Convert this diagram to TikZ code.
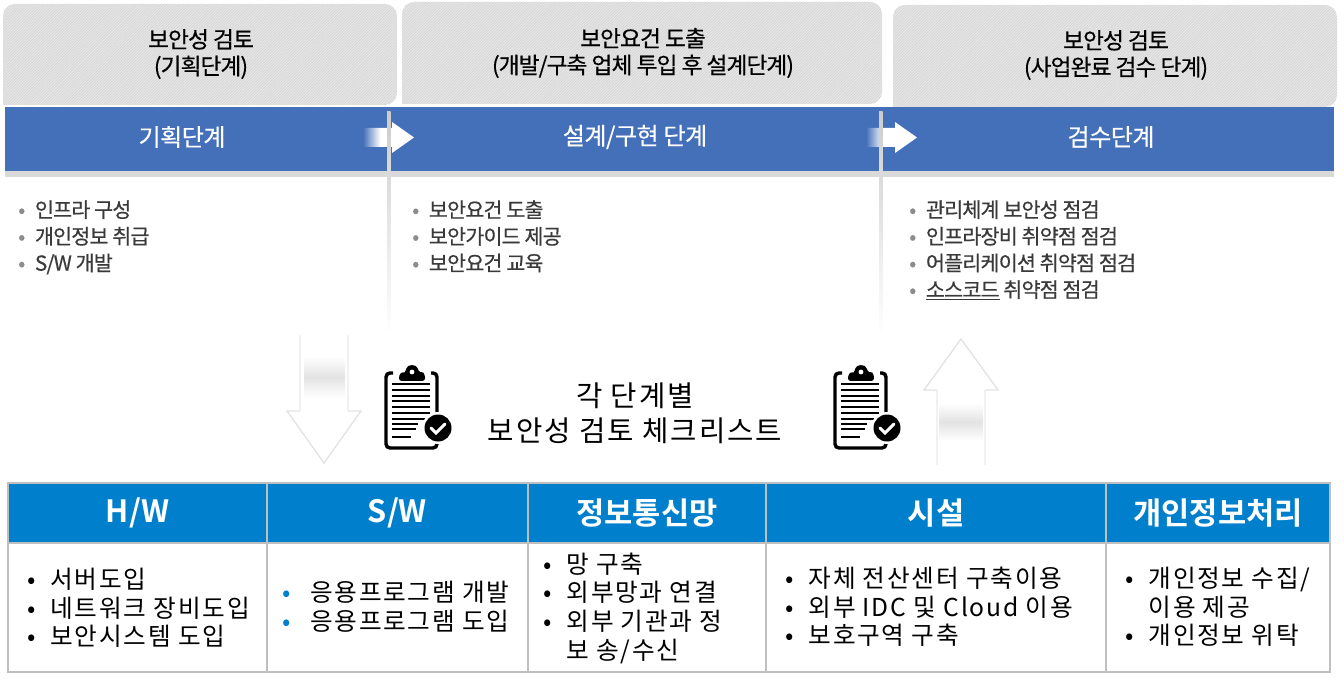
\documentclass[tikz,border=0pt]{standalone}
\usepackage{fontspec}
\usepackage{xcolor}
\setmainfont{Noto Sans CJK KR}[BoldFont={Noto Sans CJK KR Bold}]
\newfontfamily\tightfont{Noto Sans CJK KR}[LetterSpace=-4,FakeBold=0.5]
\newfontfamily\bandfont{Noto Sans CJK KR}[LetterSpace=-2,FakeBold=0.4]
\newfontfamily\widefont{Noto Sans CJK KR}[LetterSpace=7]
\usetikzlibrary{arrows.meta, positioning, shapes, patterns.meta}

\definecolor{bandblue}{HTML}{4470BA}
\definecolor{headblue}{HTML}{0080CC}
\definecolor{panelgray}{HTML}{E6E6E6}
\definecolor{hatchgray}{HTML}{D2D2D2}
\definecolor{stripgray}{HTML}{D9D9D9}
\definecolor{cellline}{HTML}{BFBFBF}
\definecolor{softtext}{HTML}{3A3A3A}
\definecolor{softdot}{HTML}{8C8C8C}
\definecolor{softarrow}{HTML}{E2E2E2}
\definecolor{softshaft}{HTML}{F1F1F1}

\pgfdeclarehorizontalshading{arrowfade}{100bp}{color(0bp)=(bandblue); color(25bp)=(bandblue); color(42bp)=(white); color(100bp)=(white)}

\newcommand{\topitem}[1]{\makebox[12.5pt][l]{\textcolor{softdot}{•}}#1}
\newcommand{\cellitem}[1]{\makebox[17.5pt][l]{•}#1}
\newcommand{\blueitem}[1]{\makebox[21pt][l]{\textcolor{headblue}{•}}#1}

\tikzset{
    paneltitle/.style={align=center,text=black,font=\tightfont\fontsize{17}{20}\selectfont},
    bandlabel/.style={text=white,font=\bandfont\fontsize{18}{20}\selectfont},
    toplist/.style={anchor=north west,align=left,inner sep=0pt,text=softtext,font=\tightfont\fontsize{15.5}{20}\selectfont},
    headcell/.style={anchor=north west,draw=cellline,line width=1.5pt,fill=headblue,text=white,font=\bfseries\fontsize{23}{26}\selectfont,inner sep=0pt,outer sep=0pt},
    bodycell/.style={anchor=north west,draw=cellline,line width=1.5pt,inner sep=0pt,outer sep=0pt},
    celllist/.style={anchor=west,align=left,inner sep=0pt,font=\widefont\fontsize{18.5}{21.5}\selectfont},
    clipboard/.pic={
        \draw[line width=2.6pt,rounded corners=3pt] (393,373) -- (386,373) -- (386,448) -- (437,448) -- (437,373) -- (431,373);
        \fill[rounded corners=2pt] (399,381) -- (399,375) .. controls (402,372) and (405,372) .. (406,371) .. controls (407,364) and (417,364) .. (418,371) .. controls (420,372) and (423,372) .. (425,375) -- (425,381) -- cycle;
        \fill[white] (412,372) circle (2.4);
        \foreach \ly/\lx in {384/430,390/430,396/430,401/430,407/430,413/430,419/425,424/418,429/416}
            \draw[line width=1.9pt] (392,\ly) -- (\lx,\ly);
        \draw[line width=1.9pt] (392,437) -- (411,437);
        \fill[white] (438,428) circle (16);
        \fill (438,428) circle (13.5);
        \draw[white,line width=2.2pt,line cap=round] (431,428) -- (436,433) -- (445,424);
    }
}

\begin{document}
\begin{tikzpicture}[x=0.75pt,y=-0.75pt]
    \useasboundingbox (0,0) rectangle (1344,680);

    % top panels
    \foreach \xa/\xb/\ya/\yb in {3/397/4/105,402/882/2/104,893/1337/5/107}
        \fill[panelgray,rounded corners=9pt,postaction={pattern={Lines[angle=45,distance=1.5pt,line width=.4pt]},pattern color=hatchgray}]
            (\xa,\yb) -- (\xa,\ya) -- (\xb,\ya) -- (\xb,\yb) -- (\xa,\yb);
    \node[paneltitle] (plan) at (201,54) {보안성 검토\\(기획단계)};
    \node[paneltitle] (design) at (643,53) {보안요건 도출\\(개발/구축 업체 투입 후 설계단계)};
    \node[paneltitle] (final) at (1116,55) {보안성 검토\\(사업완료 검수 단계)};

    % band
    \fill[stripgray] (5,171) rectangle (1334,177);
    \fill[bandblue] (5,107) rectangle (1334,171);
    \node[bandlabel] (planband) at (182,137) {기획단계};
    \node[bandlabel] (designband) at (635,137) {설계/구현 단계};
    \node[bandlabel] (finalband) at (1111,137) {검수단계};

    % dividers and arrows
    \foreach \dx/\ax in {0/0,492/503}{
        \shade[shading=arrowfade]
            (363+\ax,128) -- (392+\ax,128) -- (392+\ax,122) -- (414+\ax,137.5) -- (392+\ax,153) -- (392+\ax,147) -- (363+\ax,147) -- cycle;
        \shade[top color=gray!40,bottom color=white] (387+\dx,112) rectangle (390.5+\dx,335);
    }

    % lists under the band
    \node[toplist] (planlist) at (18,200) {\topitem{인프라 구성}\\\topitem{개인정보 취급}\\\topitem{S/W 개발}};
    \node[toplist] (designlist) at (412,200) {\topitem{보안요건 도출}\\\topitem{보안가이드 제공}\\\topitem{보안요건 교육}};
    \node[toplist] (finallist) at (909,200) {\topitem{관리체계 보안성 점검}\\\topitem{인프라장비 취약점 점검}\\\topitem{어플리케이션 취약점 점검}\\\topitem{\underline{소스코드} 취약점 점검}};

    % faint arrows
    \shade[top color=white,bottom color=white,middle color=gray!22] (304,356) rectangle (345,398);
    \draw[softshaft,line width=1pt] (300,335) -- (300,411);
    \draw[softshaft,line width=1pt] (348,335) -- (348,411);
    \draw[softarrow,line width=1pt] (300,411) -- (287,411) -- (324,463) -- (361,411) -- (348,411);
    \shade[top color=white,bottom color=white,middle color=gray!22] (939,403) rectangle (983,441);
    \draw[softshaft,line width=1pt] (937,465) -- (937,390);
    \draw[softshaft,line width=1pt] (985,465) -- (985,390);
    \draw[softarrow,line width=1pt] (937,390) -- (924,390) -- (961,339) -- (998,390) -- (985,390);

    % checklist icons
    \pic at (0,0) {clipboard};
    \pic at (449,0) {clipboard};
    \node[align=center,font=\widefont\fontsize{21.5}{26.5}\selectfont] (checklist) at (635,413) {각 단계별\\보안성 검토 체크리스트};

    % table
    \foreach \xa/\cw/\cname/\lbl in {8/259/hw/{H/W},267/261/sw/{S/W},528/238/net/정보통신망,766/340/fac/시설,1106/224/priv/개인정보처리}{
        \node[headcell,minimum width=\cw*0.75pt,minimum height=45pt] (\cname head) at (\xa,483) {\lbl};
        \node[bodycell,minimum width=\cw*0.75pt,minimum height=96.75pt] (\cname body) at (\xa,543) {};
    }
    \node[celllist] (hwlist) at (27,608) {\cellitem{서버도입}\\\cellitem{네트워크 장비도입}\\\cellitem{보안시스템 도입}};
    \node[celllist] (swlist) at (282,607) {\blueitem{응용프로그램 개발}\\\blueitem{응용프로그램 도입}};
    \node[celllist] (netlist) at (543,608) {\cellitem{망 구축}\\\cellitem{외부망과 연결}\\\cellitem{외부 기관과 정}\\\hspace*{17.5pt}보 송/수신};
    \node[celllist] (faclist) at (785,607) {\cellitem{자체 전산센터 구축이용}\\\cellitem{외부 IDC 및 Cloud 이용}\\\cellitem{보호구역 구축}};
    \node[celllist] (privlist) at (1125,607) {\cellitem{개인정보 수집/}\\\hspace*{17.5pt}이용 제공\\\cellitem{개인정보 위탁}};
\end{tikzpicture}
\end{document}
